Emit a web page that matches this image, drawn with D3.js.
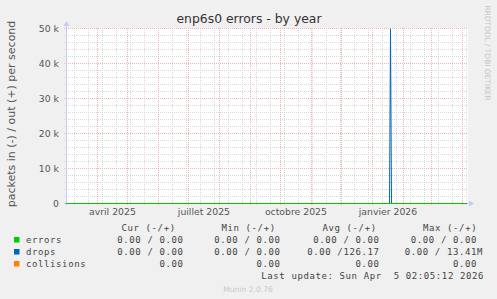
<!DOCTYPE html>
<html><head><meta charset="utf-8">
<script src="https://cdn.jsdelivr.net/npm/d3@7"></script>
<style>
html,body{margin:0;padding:0;background:#f0f0f0;}
svg{display:block;}
</style></head>
<body>
<script>
// ---- data ----
const title = "enp6s0 errors - by year";
const yLabel = "packets in (-) / out (+) per second";
const startTime = "2025-03-01 02:05";
const endTime = "2026-04-05 02:05";
const yTicks = [0, 10000, 20000, 30000, 40000, 50000];
const frMonths = ["janvier","février","mars","avril","mai","juin","juillet","août","septembre","octobre","novembre","décembre"];
const xLabelMonths = ["2025-04-01","2025-07-01","2025-10-01","2026-01-01"];

const errDates = ["2025-03-01 02:05","2026-04-05 02:05"];
const errorsIn = [0, 0];
const errorsOut = [0, 0];
const dropDates = ["2025-03-01 02:05","2026-01-18 02:05","2026-01-19 02:05","2026-01-20 02:05","2026-04-05 02:05"];
const dropsIn = [0, 0, 0, 0, 0];
const dropsOut = [0, 0, 49900, 0, 0];
const collDates = ["2025-03-01 02:05","2026-04-05 02:05"];
const collisions = [0, 0];

const seriesNames = ["errors","drops","collisions"];
const seriesColors = ["#00cc00","#0066b3","#ff8000"];
const headers = ["Cur (-/+)","Min (-/+)","Avg (-/+)","Max (-/+)"];
const curVals = ["0.00 / 0.00","0.00 / 0.00","0.00"];
const minVals = ["0.00 / 0.00","0.00 / 0.00","0.00"];
const avgVals = ["0.00 / 0.00","0.00 /126.17","0.00"];
const maxVals = ["0.00 / 0.00","0.00 / 13.41M","0.00"];
const lastUpdate = "Last update: Sun Apr  5 02:05:12 2026";
const footer = "Munin 2.0.76";
const watermark = "RRDTOOL / TOBI OETIKER";

// ---- drawing ----
const W = 497, H = 299;
const L = 66, R = 466, T = 28, B = 203;
const parse = d3.timeParse("%Y-%m-%d %H:%M");
const pday = d3.timeParse("%Y-%m-%d");
const t0 = parse(startTime), t1 = parse(endTime);

const svg = d3.select("body").append("svg").attr("width", W).attr("height", H);
svg.append("rect").attr("width", W).attr("height", H).attr("fill", "#f0f0f0");

const x = d3.scaleTime().domain([t0, t1]).range([L, R]);
const y = d3.scaleLinear().domain([0, 50000]).range([B + 0.5, T + 0.5]);

// canvas
svg.append("rect").attr("x", L).attr("y", T).attr("width", R + 2 - L).attr("height", B - T + 1).attr("fill", "#ffffff");

const grid = svg.append("g").attr("shape-rendering", "crispEdges");
const minorCol = "#d9d9d9", majorCol = "#eeb4b4";

// minor horizontal
d3.range(0, 50001, 2000).filter(v => v % 10000 !== 0).forEach(v => {
  const yy = Math.floor(y(v)) + 0.5;
  grid.append("line").attr("x1", L - 2).attr("x2", R + 2).attr("y1", yy).attr("y2", yy)
    .attr("stroke", minorCol).attr("stroke-dasharray", "1,1");
});
// minor vertical every two weeks (Sundays)
d3.timeSunday.range(t0, t1).filter((d, i) => i % 2 === 1).forEach(d => {
  const xx = Math.round(x(d)) + 0.5;
  grid.append("line").attr("x1", xx).attr("x2", xx).attr("y1", T).attr("y2", B + 2)
    .attr("stroke", minorCol).attr("stroke-dasharray", "1,1");
});
// major horizontal
yTicks.forEach(v => {
  const yy = Math.floor(y(v)) + 0.5;
  grid.append("line").attr("x1", L - 2).attr("x2", R + 2).attr("y1", yy).attr("y2", yy)
    .attr("stroke", majorCol).attr("stroke-dasharray", "1,1");
});
// major vertical monthly
d3.timeMonth.range(d3.timeMonth.ceil(t0), t1).forEach(d => {
  const xx = Math.round(x(d)) + 0.5;
  grid.append("line").attr("x1", xx).attr("x2", xx).attr("y1", T).attr("y2", B + 2)
    .attr("stroke", majorCol).attr("stroke-dasharray", "1,1");
});

// axes lines + arrows
const axCol = "#c8c8f8";
svg.append("line").attr("x1", L + 0.5).attr("x2", L + 0.5).attr("y1", B + 2).attr("y2", T - 5).attr("stroke", axCol);
svg.append("path").attr("d", `M${L-2.5},${T-2} L${L+3.5},${T-2} L${L+0.5},${T-7} Z`).attr("fill", axCol);
svg.append("line").attr("x1", L - 2).attr("x2", R + 4).attr("y1", B + 0.5).attr("y2", B + 0.5).attr("stroke", axCol);
svg.append("path").attr("d", `M${R+3},${B-2.5} L${R+3},${B+3.5} L${R+8},${B+0.5} Z`).attr("fill", axCol);

// y tick labels
const yAxis = d3.axisLeft(y).tickValues(yTicks).tickSize(0).tickPadding(0)
  .tickFormat(v => v === 0 ? "0" : (v / 1000) + " k");
const yg = svg.append("g").attr("transform", `translate(${L - 7},0)`).call(yAxis);
yg.select(".domain").remove();
yg.selectAll("text").attr("font-family", "DejaVu Sans").attr("font-size", "9.3px").attr("fill", "#555").attr("dy", "0.34em");

// x labels (mid-month)
const xLab = xLabelMonths.map(s => pday(s));
const mid = d => new Date((+d + +d3.timeMonth.offset(d, 1)) / 2);
const xAxis = d3.axisBottom(x).tickValues(xLab.map(mid)).tickSize(0).tickPadding(0)
  .tickFormat((d, i) => frMonths[xLab[i].getMonth()] + " " + xLab[i].getFullYear());
const xg = svg.append("g").attr("transform", `translate(0,${B + 5})`).call(xAxis);
xg.select(".domain").remove();
xg.selectAll("text").attr("font-family", "DejaVu Sans").attr("font-size", "9.3px").attr("fill", "#555").attr("dy", "0.78em");

// series
svg.append("clipPath").attr("id", "c").append("rect").attr("x", L).attr("y", T).attr("width", R - L + 1).attr("height", B - T + 2);
const lineG = svg.append("g").attr("clip-path", "url(#c)");
function drawLine(dates, vals, sign, color) {
  const pts = dates.map((d, i) => [parse(d), sign * vals[i]]);
  lineG.append("path").datum(pts)
    .attr("d", d3.line().x(p => Math.round(x(p[0])) + 0.5).y(p => y(Math.max(p[1], 0))))
    .attr("fill", "none").attr("stroke", color).attr("stroke-width", 1);
}
drawLine(collDates, collisions, 1, seriesColors[2]);
drawLine(dropDates, dropsIn, -1, seriesColors[1]);
drawLine(dropDates, dropsOut, 1, seriesColors[1]);
drawLine(errDates, errorsIn, -1, seriesColors[0]);
drawLine(errDates, errorsOut, 1, seriesColors[0]);

// title
svg.append("text").attr("x", 249).attr("y", 23).attr("text-anchor", "middle")
  .attr("font-family", "DejaVu Sans").attr("font-size", "12.4px").attr("fill", "#333").text(title);
// y label
svg.append("text").attr("transform", "translate(15,114) rotate(-90)").attr("text-anchor", "middle")
  .attr("font-family", "DejaVu Sans").attr("font-size", "11px").attr("fill", "#555").text(yLabel);
// watermark
svg.append("text").attr("transform", "translate(485,53) rotate(90)").attr("text-anchor", "middle")
  .attr("font-family", "DejaVu Sans").attr("font-size", "7.4px").attr("fill", "#c4c4c4").text(watermark);

// legend
const mono = "DejaVu Sans Mono";
const lg = svg.append("g").attr("font-family", mono).attr("font-size", "9px").attr("fill", "#444")
  .attr("letter-spacing", "0.6px");
const txt = (xx, yy, s, anchor) => lg.append("text").attr("xml:space", "preserve").style("white-space", "pre")
  .attr("x", xx).attr("y", yy).attr("text-anchor", anchor || "start").text(s);
const headStarts = [121.5, 221.5, 322.5, 423];
headers.forEach((h, i) => txt(headStarts[i], 231, h));
const colEnds = [183.5, 280.5, 379.5, 477];
const rowY = [243, 255, 267];
seriesNames.forEach((n, r) => {
  lg.append("rect").attr("x", 14).attr("y", rowY[r] - 6).attr("width", 5.5).attr("height", 5.5).attr("fill", seriesColors[r]);
  txt(26, rowY[r], n);
  [curVals, minVals, avgVals, maxVals].forEach((arr, c) => {
    const extra = (arr[r].length > 11) ? 6 : 0;
    txt(colEnds[c] + (c === 3 ? extra : 0), rowY[r], arr[r], "end");
  });
});
txt(484, 279, lastUpdate, "end");
svg.append("text").attr("x", 248).attr("y", 292).attr("text-anchor", "middle")
  .attr("font-family", "DejaVu Sans").attr("font-size", "7.6px").attr("fill", "#c8c8c8").text(footer);
</script>
</body></html>
